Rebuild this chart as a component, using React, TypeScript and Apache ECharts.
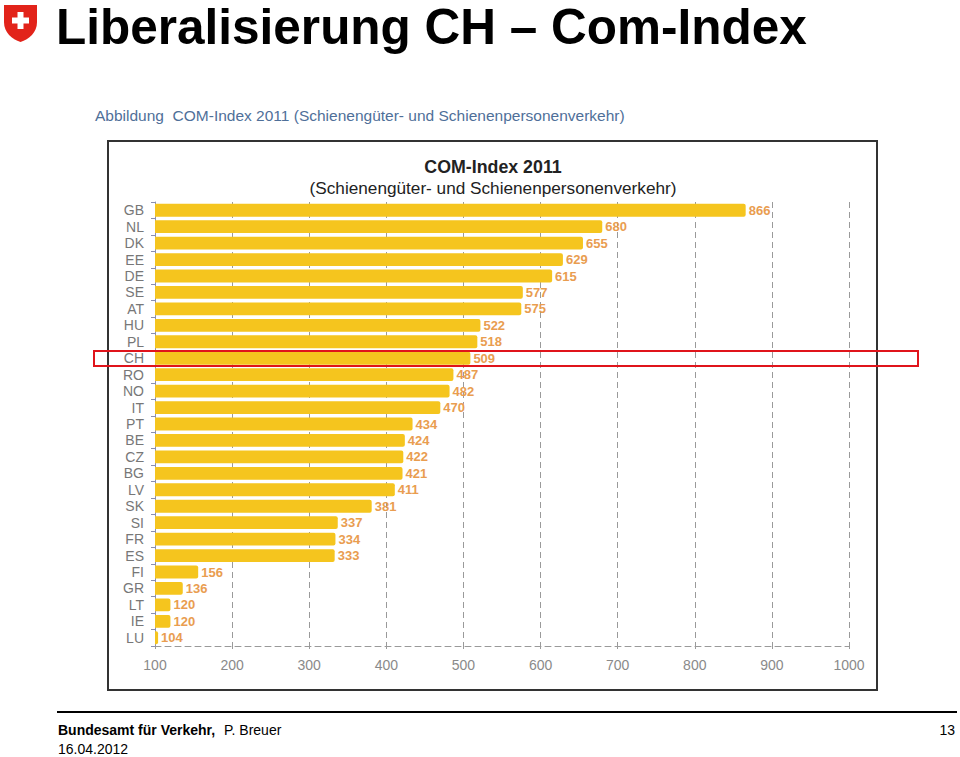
import React, { useEffect, useRef } from "react";
import * as echarts from "echarts";

const countries = ["GB","NL","DK","EE","DE","SE","AT","HU","PL","CH","RO","NO","IT","PT","BE","CZ","BG","LV","SK","SI","FR","ES","FI","GR","LT","IE","LU"];
const comIndex = [866,680,655,629,615,577,575,522,518,509,487,482,470,434,424,422,421,411,381,337,334,333,156,136,120,120,104];
const axisMin = 100;
const axisMax = 1000;
const axisStep = 100;

const pageTitle = "Liberalisierung CH – Com-Index";
const pageSubtitle = "Abbildung  COM-Index 2011 (Schienengüter- und Schienenpersonenverkehr)";
const chartTitle = "COM-Index 2011";
const chartSubtitle = "(Schienengüter- und Schienenpersonenverkehr)";
const footerOrg = "Bundesamt für Verkehr,";
const footerAuthor = "P. Breuer";
const footerDate = "16.04.2012";
const pageNumber = "13";

const FONT = "'Liberation Sans', Arial, sans-serif";

let registered = false;
function registerShapes() {
  if (registered) return;
  registered = true;
  echarts.graphic.registerShape(
    "swissShield",
    echarts.graphic.extendPath("M0 0 H33 V17 C33 28 25 34 16.5 37 C8 34 0 28 0 17 Z", {})
  );
}

export default function App() {
  const ref = useRef<HTMLDivElement>(null);

  useEffect(() => {
    if (!ref.current) return;
    registerShapes();
    const chart = echarts.init(ref.current, undefined, { renderer: "svg" });
    const txt = (text: string, x: number, y: number, size: number, color: string, weight: string = "normal", align: string = "left") => ({
      type: "text",
      x,
      y,
      z: 50,
      style: {
        text,
        fill: color,
        fontSize: size,
        fontWeight: weight,
        fontFamily: FONT,
        align,
        verticalAlign: "middle",
        textAlign: align,
        textVerticalAlign: "middle",
      },
    });
    chart.setOption({
      animation: false,
      backgroundColor: "#ffffff",
      grid: { left: 155, right: 111, top: 202, bottom: 111, containLabel: false },
      xAxis: {
        type: "value",
        min: axisMin,
        max: axisMax,
        interval: axisStep,
        axisLine: { show: true, lineStyle: { color: "#9a9a9a", type: [6, 4], width: 1 } },
        axisTick: { show: true, length: 3, lineStyle: { color: "#9a9a9a" } },
        axisLabel: { color: "#8a8a8a", fontSize: 14, fontFamily: FONT, margin: 12, formatter: (v: number) => String(v) },
        splitLine: { show: true, lineStyle: { color: "#9a9a9a", type: [6, 4], width: 1 } },
      },
      yAxis: {
        type: "category",
        inverse: true,
        data: countries,
        axisLine: { show: true, lineStyle: { color: "#8a8fb0", width: 1 } },
        axisTick: { show: true, length: 4, lineStyle: { color: "#8a8fb0" } },
        axisLabel: { color: "#777777", fontSize: 14, fontFamily: FONT, margin: 11, interval: 0 },
        splitLine: { show: false },
      },
      series: [
        {
          type: "bar",
          data: comIndex,
          barCategoryGap: "22%",
          itemStyle: { color: "#f5c51e", borderRadius: [0, 2, 2, 0] },
          label: {
            show: true,
            position: "right",
            distance: 3,
            color: "#e99d50",
            fontWeight: "bold",
            fontSize: 13,
            fontFamily: FONT,
          },
        },
      ],
      graphic: [
        { type: "swissShield", x: 4, y: 5, z: 50, style: { fill: "#e2231a" } },
        { type: "rect", z: 51, shape: { x: 12, y: 17.5, width: 17, height: 6 }, style: { fill: "#ffffff" } },
        { type: "rect", z: 51, shape: { x: 17.5, y: 12, width: 6, height: 17 }, style: { fill: "#ffffff" } },
        txt(pageTitle, 56, 26, 49.5, "#000000", "bold"),
        txt(pageSubtitle, 95, 115, 15.5, "#4f6f99"),
        {
          type: "rect",
          z: 1,
          shape: { x: 108, y: 141, width: 769, height: 549 },
          style: { fill: "none", stroke: "#333333", lineWidth: 2 },
        },
        txt(chartTitle, 493, 167, 17.8, "#222222", "bold", "center"),
        txt(chartSubtitle, 493, 188, 17.2, "#222222", "normal", "center"),
        {
          type: "rect",
          z: 100,
          shape: { x: 94, y: 351, width: 824, height: 15 },
          style: { fill: "none", stroke: "#e0141b", lineWidth: 2 },
        },
        {
          type: "line",
          z: 50,
          shape: { x1: 57, y1: 712, x2: 957, y2: 712 },
          style: { stroke: "#000000", lineWidth: 2 },
        },
        txt(footerOrg, 58, 730, 14, "#000000", "bold"),
        txt(footerAuthor, 224, 730, 14, "#000000"),
        txt(footerDate, 58, 749, 14, "#000000"),
        txt(pageNumber, 955, 730, 14, "#000000", "normal", "right"),
      ],
    });
    return () => chart.dispose();
  }, []);

  return (
    <div
      ref={ref}
      style={{ position: "absolute", left: 0, top: 0, width: 960, height: 757, background: "#fff" }}
    />
  );
}
